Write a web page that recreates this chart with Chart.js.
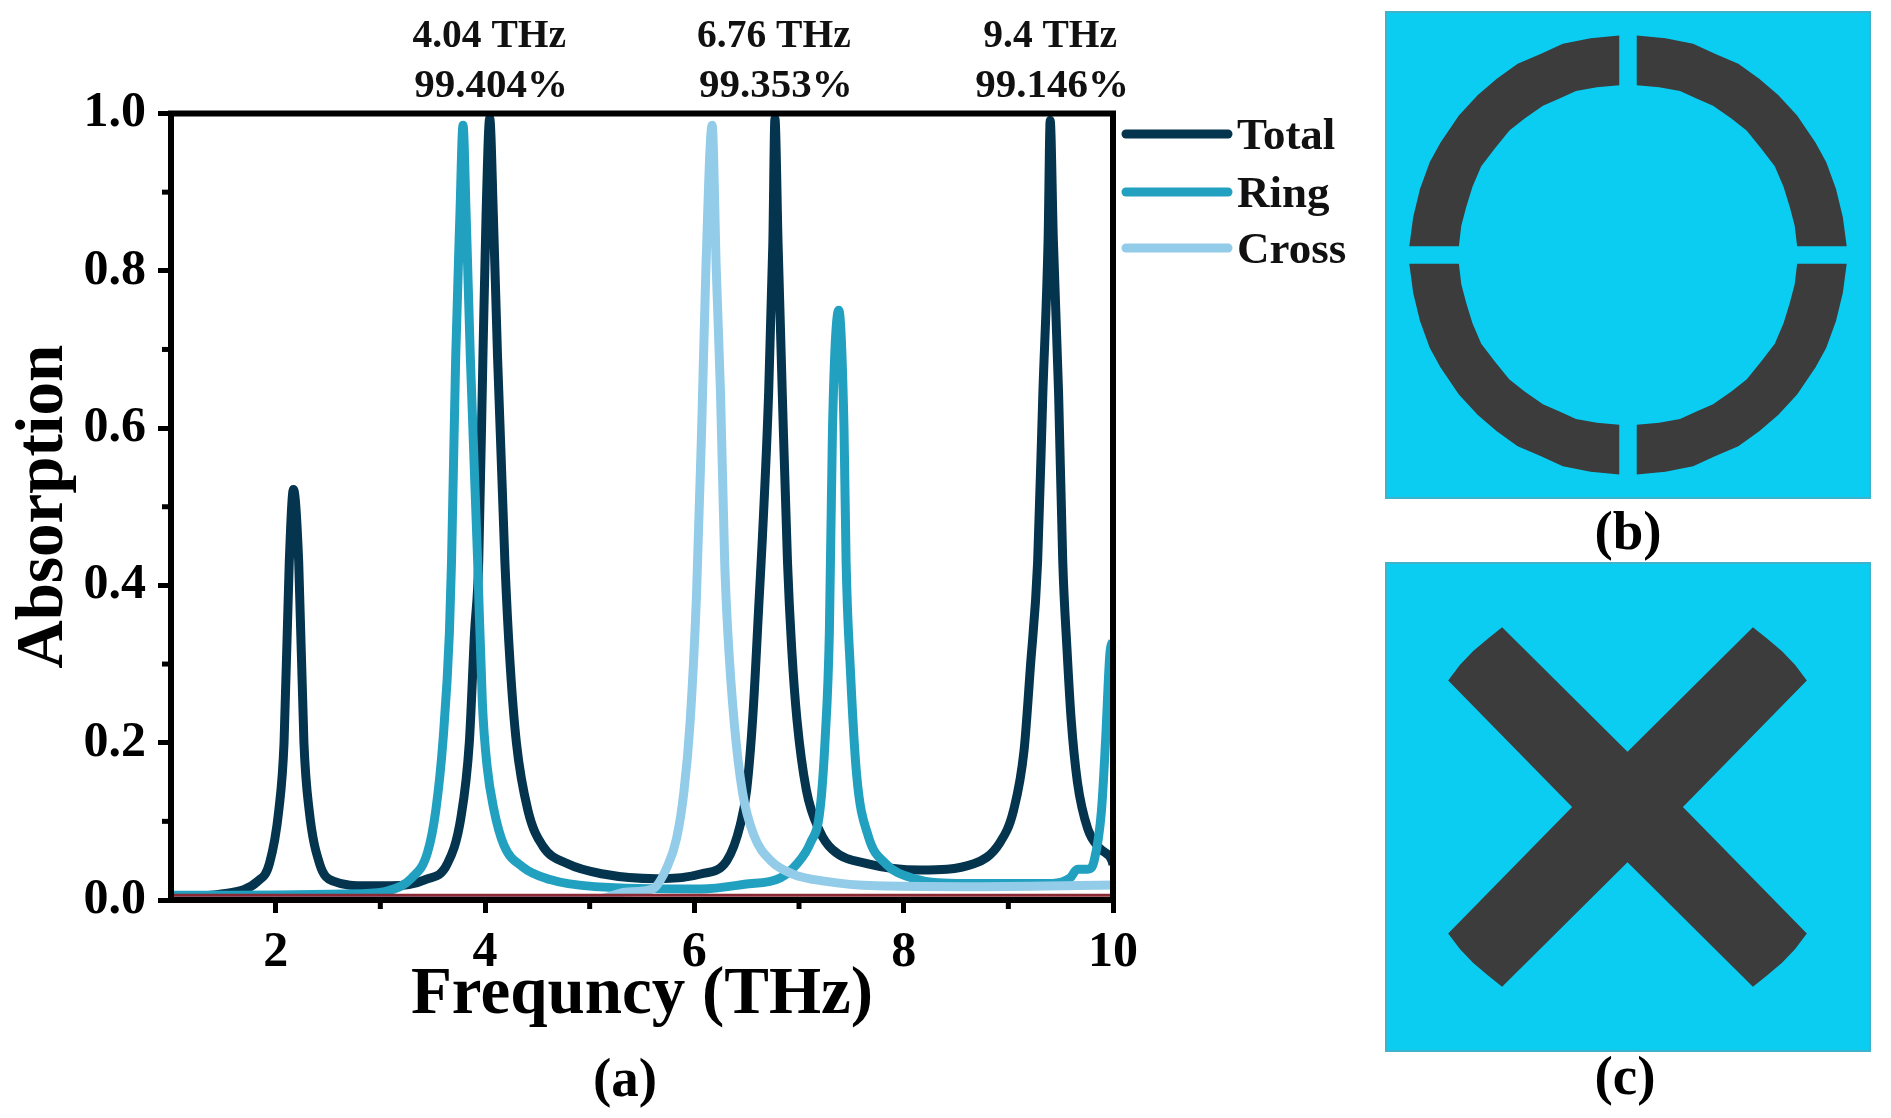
<!DOCTYPE html>
<html>
<head>
<meta charset="utf-8">
<script src="https://cdn.jsdelivr.net/npm/chart.js@4"></script>
<style>
  html, body { margin: 0; padding: 0; background: #fff; }
  body { width: 1891px; height: 1118px; position: relative; overflow: hidden; font-family: "Liberation Serif", serif; }
  canvas { position: absolute; display: block; }
  .panel { box-sizing: border-box; }
  .cap { position: absolute; font-weight: bold; font-size: 55px; line-height: 60px; color: #000; transform: translateX(-50%); }
</style>
</head>
<body>
<canvas id="absorption" width="1370" height="1118" style="left:0;top:0"></canvas>
<canvas id="ring" class="panel" width="486" height="488" style="left:1385px;top:11px"></canvas>
<canvas id="cross" class="panel" width="486" height="490" style="left:1385px;top:562px"></canvas>
<div class="cap" style="left:625px;top:1048px">(a)</div>
<div class="cap" style="left:1628px;top:501px">(b)</div>
<div class="cap" style="left:1625px;top:1046px">(c)</div>
<script>
// curves (THz, absorption)
const totalX = [1, 1.5, 1.83, 1.94, 2.03, 2.08, 2.13, 2.17, 2.22, 2.27, 2.32, 2.42, 2.55, 2.87, 3.1, 3.43, 3.64, 3.77, 3.85, 3.9, 3.94, 3.98, 4.01, 4.045, 4.08, 4.12, 4.19, 4.24, 4.3, 4.41, 4.55, 4.79, 5.13, 5.64, 6.06, 6.31, 6.44, 6.5, 6.56, 6.62, 6.65, 6.71, 6.75, 6.77, 6.8, 6.84, 6.89, 6.93, 6.98, 7.07, 7.2, 7.32, 7.66, 8.16, 8.67, 8.92, 9.05, 9.15, 9.21, 9.28, 9.33, 9.38, 9.4, 9.43, 9.48, 9.52, 9.56, 9.6, 9.66, 9.76, 9.87, 9.99, 10];
const totalY = [.004, .008, .024, .046, .114, .2, .43, .522, .43, .2, .114, .046, .024, .018, .018, .026, .046, .105, .2, .34, .43, .69, .87, .994, .87, .69, .43, .3, .2, .114, .069, .046, .033, .027, .033, .05, .096, .14, .236, .385, .46, .645, .835, .9935, .835, .645, .43, .32, .23, .14, .087, .064, .046, .038, .046, .073, .114, .19, .295, .43, .645, .84, .991, .84, .645, .43, .32, .23, .15, .09, .066, .05, .045];

const ringX = [1, 2.79, 3.08, 3.3, 3.45, 3.53, 3.6, 3.66, 3.68, 3.72, 3.76, 3.79, 3.82, 3.86, 3.93, 3.975, 4.02, 4.085, 4.18, 4.36, 4.62, 5.05, 6.06, 6.48, 6.82, 6.98, 7.11, 7.2, 7.25, 7.29, 7.32, 7.38, 7.43, 7.45, 7.49, 7.55, 7.66, 7.83, 8.08, 8.58, 9.42, 9.59, 9.66, 9.76, 9.82, 9.89, 9.93, 9.97, 10];
const ringY = [.006, .008, .012, .028, .06, .114, .205, .34, .43, .69, .87, .985, .87, .69, .43, .25, .17, .115, .07, .042, .026, .017, .014, .02, .028, .046, .073, .114, .205, .34, .6, .75, .6, .43, .295, .16, .082, .046, .028, .021, .021, .028, .039, .039, .05, .114, .205, .313, .33];

const crossX = [1, 5.1, 5.34, 5.6, 5.74, 5.83, 5.9, 5.96, 6.02, 6.07, 6.11, 6.17, 6.21, 6.25, 6.29, 6.32, 6.38, 6.46, 6.57, 6.73, 6.94, 7.24, 7.74, 8.58, 10];
const crossY = [.001, .002, .01, .014, .042, .078, .137, .227, .385, .6, .8, .985, .8, .645, .43, .34, .227, .137, .082, .05, .033, .024, .018, .017, .019];

// thin dark red line lying on the axis
const baseX = [1, 10];
const baseY = [.006, .006];

const xTicks = [2, 4, 6, 8, 10];
const xMinor = [3, 5, 7, 9];
const yMinor = [.1, .3, .5, .7, .9];

const peakFreq = [4.04, 6.76, 9.4];
const peakFreqLabel = ['4.04 THz', '6.76 THz', '9.4 THz'];
const peakPct = ['99.404%', '99.353%', '99.146%'];

const legendNames = ['Total', 'Ring', 'Cross'];
const legendColors = ['#04344e', '#22a0c0', '#93cce8'];

// schematics, outline in % of the panel: upper left quarter of the ring
const ringQuarter = [[48.2, 5], [42.3, 5.6], [36.6, 6.7], [32, 8.8], [27.3, 10.8], [23, 13.9], [19.1, 17.2], [15.2, 21.4], [11.4, 27], [9.2, 31], [7.2, 36.5], [5.8, 42.2], [5, 48.2], [15.2, 48.2], [15.7, 44], [16.7, 40.2], [18, 36], [19.8, 31.8], [22.6, 28.2], [25.6, 24.5], [28.8, 22], [32.5, 19.4], [35.8, 18], [39.3, 16.4], [43.6, 15.6], [48.2, 15.2]];
const crossOutline = [[24.1, 13.3], [21.2, 15.6], [18.1, 18.2], [15.4, 21], [13, 24.2], [38.5, 50], [13, 75.8], [15.4, 79], [18.1, 81.8], [21.2, 84.4], [24.1, 86.7], [49.9, 61.3], [75.7, 86.7], [78.6, 84.4], [81.7, 81.8], [84.4, 79], [86.8, 75.8], [61.3, 50], [86.8, 24.2], [84.4, 21], [81.7, 18.2], [78.6, 15.6], [75.7, 13.3], [49.9, 38.7]];

const SERIF = '"Liberation Serif", serif';
const pts = (xs, ys) => xs.map((x, i) => ({ x, y: ys[i] }));

// frame, minor ticks, peak labels and legend
const decor = {
  id: 'decor',
  afterDatasetsDraw(chart) {
    const { ctx, chartArea: a, scales: { x, y } } = chart;
    ctx.save();
    ctx.strokeStyle = '#000';
    ctx.lineCap = 'butt';
    ctx.lineWidth = 6;
    ctx.strokeRect(a.left, a.top, a.right - a.left, a.bottom - a.top);
    ctx.lineWidth = 5;
    xMinor.forEach(v => {
      const p = x.getPixelForValue(v);
      ctx.beginPath(); ctx.moveTo(p, a.bottom); ctx.lineTo(p, a.bottom + 9); ctx.stroke();
    });
    yMinor.forEach(v => {
      const p = y.getPixelForValue(v);
      ctx.beginPath(); ctx.moveTo(a.left, p); ctx.lineTo(a.left - 9, p); ctx.stroke();
    });

    ctx.fillStyle = '#111';
    ctx.textAlign = 'center';
    ctx.textBaseline = 'alphabetic';
    peakFreq.forEach((f, i) => {
      const p = x.getPixelForValue(f);
      ctx.font = 'bold 39.5px ' + SERIF;
      ctx.fillText(peakFreqLabel[i], p, 47);
      ctx.font = 'bold 41px ' + SERIF;
      ctx.fillText(peakPct[i], p + 2, 97);
    });

    ctx.textAlign = 'left';
    ctx.font = 'bold 45px ' + SERIF;
    ctx.lineCap = 'round';
    ctx.lineWidth = 9;
    legendNames.forEach((name, i) => {
      const ly = [134, 192, 248][i];
      ctx.strokeStyle = legendColors[i];
      ctx.beginPath(); ctx.moveTo(1126, ly); ctx.lineTo(1228, ly); ctx.stroke();
      ctx.fillStyle = '#111';
      ctx.fillText(name, 1237, ly + 15);
    });
    ctx.restore();
  }
};

const curve = { showLine: true, borderWidth: 9, borderJoinStyle: 'round', pointRadius: 0, cubicInterpolationMode: 'monotone' };

new Chart(document.getElementById('absorption'), {
  type: 'scatter',
  plugins: [decor],
  data: {
    datasets: [
      { label: 'Base', data: pts(baseX, baseY), showLine: true, borderColor: '#8b2a35', borderWidth: 3, pointRadius: 0, order: 0 },
      { ...curve, label: 'Cross', data: pts(crossX, crossY), borderColor: legendColors[2], order: 1 },
      { ...curve, label: 'Ring', data: pts(ringX, ringY), borderColor: legendColors[1], order: 2 },
      { ...curve, label: 'Total', data: pts(totalX, totalY), borderColor: legendColors[0], order: 3 },
    ],
  },
  options: {
    responsive: false,
    animation: false,
    events: [],
    layout: { padding: { top: 113.5, right: 257, left: 0, bottom: 0 } },
    plugins: { legend: { display: false }, tooltip: { enabled: false } },
    scales: {
      x: {
        type: 'linear', min: 1, max: 10,
        afterFit: s => { s.height = 218; },
        afterBuildTicks: s => { s.ticks = xTicks.map(value => ({ value })); },
        border: { display: false },
        grid: { drawOnChartArea: false, drawTicks: true, tickLength: 13, tickWidth: 5, tickColor: '#000' },
        ticks: { color: '#000', padding: 10, maxRotation: 0, autoSkip: false, font: { family: SERIF, weight: 'bold', size: 50 } },
        title: { display: true, text: 'Frequncy (THz)', color: '#000', padding: { top: 0, bottom: 82 }, font: { family: SERIF, weight: 'bold', size: 67 } },
      },
      y: {
        min: 0, max: 1,
        afterFit: s => { s.width = 171; },
        border: { display: false },
        grid: { drawOnChartArea: false, drawTicks: true, tickLength: 13, tickWidth: 5, tickColor: '#000' },
        ticks: { stepSize: .2, color: '#000', padding: 12, font: { family: SERIF, weight: 'bold', size: 50 }, callback: v => v.toFixed(1) },
        title: { display: true, text: 'Absorption', color: '#000', padding: { top: 4, bottom: 0 }, font: { family: SERIF, weight: 'bold', size: 67 } },
      },
    },
  },
});

// fills each dataset as a closed shape on the panel's own scales
const shapeFill = {
  id: 'shapeFill',
  beforeDraw(chart) {
    const { ctx, width, height } = chart;
    ctx.save();
    ctx.fillStyle = '#0bcdf2';
    ctx.fillRect(0, 0, width, height);
    ctx.strokeStyle = '#3fb2cc';
    ctx.lineWidth = 2;
    ctx.strokeRect(1, 1, width - 2, height - 2);
    ctx.restore();
  },
  afterDatasetsDraw(chart) {
    const { ctx } = chart;
    ctx.save();
    ctx.fillStyle = '#3c3c3c';
    chart.data.datasets.forEach((ds, i) => {
      const els = chart.getDatasetMeta(i).data;
      ctx.beginPath();
      els.forEach((e, j) => (j ? ctx.lineTo(e.x, e.y) : ctx.moveTo(e.x, e.y)));
      ctx.closePath();
      ctx.fill();
    });
    ctx.restore();
  }
};

function schematic(id, shapes) {
  new Chart(document.getElementById(id), {
    type: 'scatter',
    plugins: [shapeFill],
    data: {
      datasets: shapes.map(s => ({ data: s.map(p => ({ x: p[0], y: p[1] })), pointRadius: 0, showLine: false })),
    },
    options: {
      responsive: false,
      animation: false,
      events: [],
      layout: { padding: 0 },
      plugins: { legend: { display: false }, tooltip: { enabled: false } },
      scales: {
        x: { type: 'linear', min: 0, max: 100, display: false },
        y: { type: 'linear', min: 0, max: 100, reverse: true, display: false },
      },
    },
  });
}

const mirror = (q, fx, fy) => q.map(p => [fx ? 100 - p[0] : p[0], fy ? 100 - p[1] : p[1]]);
schematic('ring', [ringQuarter, mirror(ringQuarter, true, false), mirror(ringQuarter, false, true), mirror(ringQuarter, true, true)]);
schematic('cross', [crossOutline]);
</script>
</body>
</html>
